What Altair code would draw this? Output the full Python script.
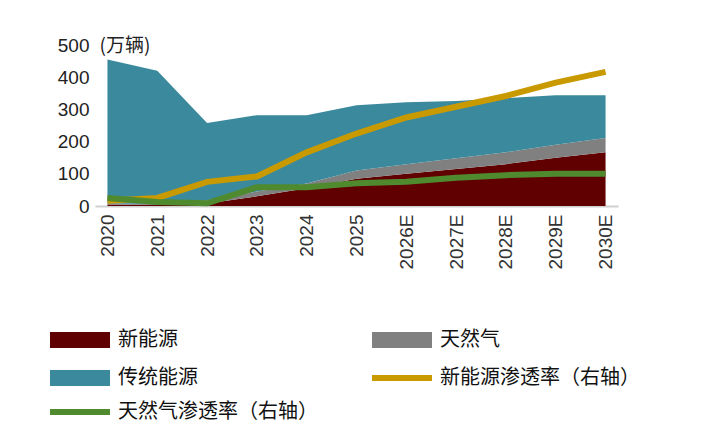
import pandas as pd
import altair as alt

years = ["2020", "2021", "2022", "2023", "2024", "2025", "2026E", "2027E", "2028E", "2029E", "2030E"]
total = [455, 420, 258, 282, 282, 313, 322, 326, 335, 344, 344]
nev = [5, 3, 8, 30, 55, 85, 100, 115, 130, 150, 167]
gas = [3, 3, 10, 15, 15, 25, 30, 33, 37, 40, 44]
nev_rate = [0.02, 0.03, 0.09, 0.11, 0.20, 0.27, 0.33, 0.37, 0.41, 0.46, 0.50]
gas_rate = [0.03, 0.015, 0.01, 0.07, 0.07, 0.085, 0.09, 0.105, 0.115, 0.12, 0.12]

FONT = "Liberation Sans"
CJK = "Noto Sans CJK SC"
C_NEV, C_GAS, C_TRAD = "#600000", "#808080", "#3b899c"
C_GOLD, C_GREEN = "#c99a00", "#4f8a2f"

rows = []
for i, y in enumerate(years):
    rows.append({"year": y, "type": "新能源", "order": 0, "v": nev[i]})
    rows.append({"year": y, "type": "天然气", "order": 1, "v": gas[i]})
    rows.append({"year": y, "type": "传统能源", "order": 2, "v": total[i] - nev[i] - gas[i]})
area_df = pd.DataFrame(rows)
rate_df = pd.DataFrame({"year": years, "nev_rate": nev_rate, "gas_rate": gas_rate})

x = alt.X("year:O", sort=years, title=None,
          scale=alt.Scale(type="point", padding=0.25),
          axis=alt.Axis(labelAngle=-90, labelFontSize=19, labelColor="#333", labelFont=FONT,
                        ticks=False, domainColor="#d0d0d0", domainWidth=2, labelPadding=8, grid=False))

areas = alt.Chart(area_df).mark_area().encode(
    x=x,
    y=alt.Y("v:Q", stack="zero", scale=alt.Scale(domain=[0, 500]),
            axis=alt.Axis(values=[0, 100, 200, 300, 400, 500], grid=False, ticks=False, domain=False,
                          labelFontSize=19, labelColor="#222", labelFont=FONT, labelPadding=6,
                          title="(万辆)", titleAngle=0, titleAlign="left", titleBaseline="middle",
                          titleX=4, titleY=0, titleFont=CJK, titleFontSize=19, titleFontWeight="normal",
                          titleColor="#222")),
    color=alt.Color("type:N", scale=alt.Scale(domain=["新能源", "天然气", "传统能源"],
                                              range=[C_NEV, C_GAS, C_TRAD]), legend=None),
    order="order:Q",
)

yr = alt.Y("nev_rate:Q", scale=alt.Scale(domain=[0, 0.6]),
           axis=alt.Axis(orient="right", format=".0%", tickCount=6, grid=False, ticks=False, domain=False,
                         labelFontSize=19, labelColor="#444", labelFont=FONT, labelPadding=4, title=None))
line_nev = alt.Chart(rate_df).mark_line(color=C_GOLD, strokeWidth=6).encode(x=x, y=yr)
line_gas = alt.Chart(rate_df).mark_line(color=C_GREEN, strokeWidth=6).encode(
    x=x, y=alt.Y("gas_rate:Q", scale=alt.Scale(domain=[0, 0.6]), axis=None))

lines = alt.layer(line_nev, line_gas)

# custom legend, pixel positions relative to plot origin
legend_items = [
    ("新能源", "rect", C_NEV, -45, 295),
    ("天然气", "rect", C_GAS, 277, 295),
    ("传统能源", "rect", C_TRAD, -45, 333),
    ("新能源渗透率（右轴）", "line", C_GOLD, 277, 333),
    ("天然气渗透率（右轴）", "line", C_GREEN, -45, 367),
]
legend_layers = []
for label, kind, col, lx, ly in legend_items:
    if kind == "rect":
        sw = alt.Chart(rate_df.head(1)).mark_rect(color=col).encode(
            x=alt.value(lx), x2=alt.value(lx + 60), y=alt.value(ly - 8), y2=alt.value(ly + 8))
    else:
        sw = alt.Chart(rate_df.head(1)).mark_rule(color=col, strokeWidth=6).encode(
            x=alt.value(lx), x2=alt.value(lx + 60), y=alt.value(ly), y2=alt.value(ly))
    tx = alt.Chart(rate_df.head(1)).mark_text(text=label, align="left", baseline="middle",
                                             font=CJK, fontSize=20, color="#111").encode(
        x=alt.value(lx + 68), y=alt.value(ly))
    legend_layers += [sw, tx]

chart = alt.layer(areas, lines, *legend_layers).resolve_scale(y="independent").properties(
    width=523, height=161,
    autosize=alt.AutoSizeParams(type="none"),
    padding={"left": 87, "top": 37, "right": 87, "bottom": 230},
).configure_view(stroke=None)

chart.save("out.html", embed_options={"renderer": "svg", "actions": False})
